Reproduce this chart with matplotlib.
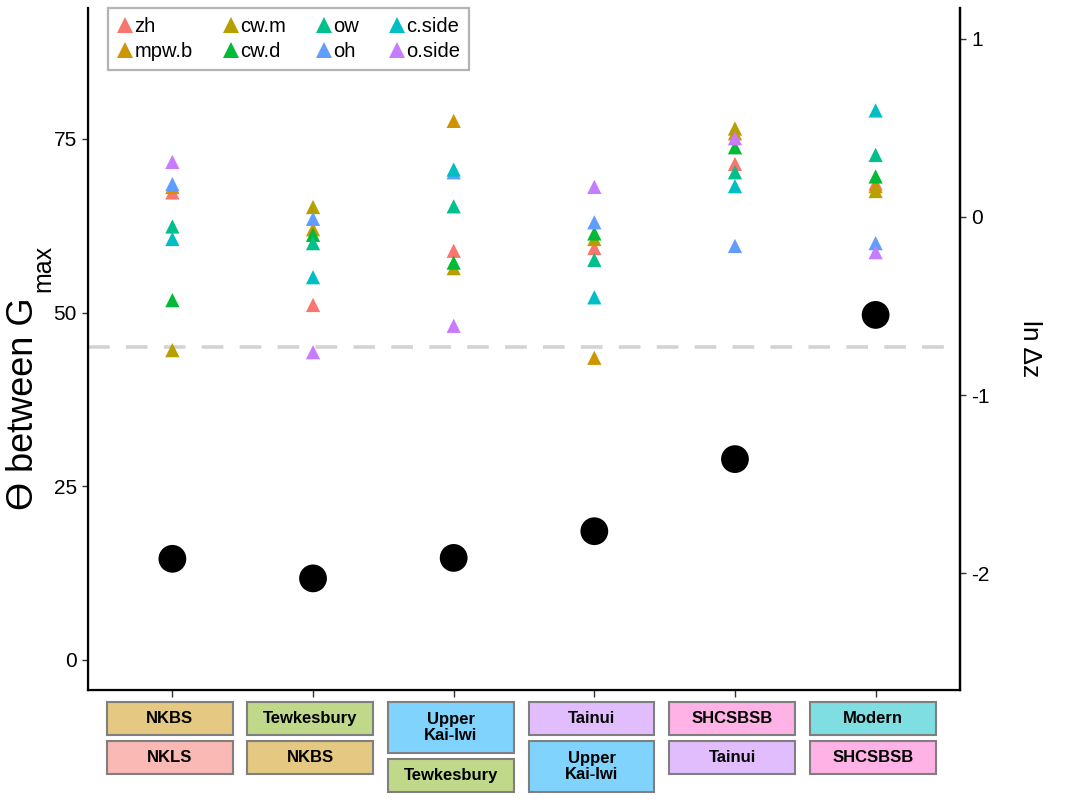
import matplotlib
matplotlib.use('Agg')
import matplotlib.pyplot as plt
from matplotlib.patches import Rectangle
from matplotlib.lines import Line2D
import matplotlib.transforms as mtransforms

plt.rcParams['font.family'] = ['Liberation Sans', 'DejaVu Sans']
plt.rcParams['axes.unicode_minus'] = False

# ---- data ----
groups = [1, 2, 3, 4, 5, 6]
traits = ['zh', 'mpw.b', 'cw.m', 'cw.d', 'ow', 'oh', 'c.side', 'o.side']
zh     = [67.3, 51.1, 58.9, 59.3, 71.4, 68.6]
mpw_b  = [68.1, 62.0, 77.6, 43.5, 75.8, 68.2]
cw_m   = [44.6, 65.2, 56.4, 60.6, 76.5, 67.5]
cw_d   = [51.8, 61.2, 57.2, 61.4, 73.8, 69.6]
ow     = [62.4, 60.0, 65.3, 57.6, 70.2, 72.7]
oh     = [68.5, 63.5, 70.2, 63.0, 59.6, 60.0]
c_side = [60.6, 55.1, 70.6, 52.2, 68.2, 79.1]
o_side = [71.7, 44.3, 48.1, 68.1, 75.1, 58.7]
trait_values = [zh, mpw_b, cw_m, cw_d, ow, oh, c_side, o_side]
trait_colors = ['#F8766D', '#CD9600', '#B79F00', '#00BA38', '#00C08B', '#619CFF', '#00BFC4', '#C77CFF']

ln_dz = [-1.92, -2.03, -1.915, -1.765, -1.36, -0.55]
ref_angle = 45

top_labels = ['NKBS', 'Tewkesbury', 'Upper\nKai-Iwi', 'Tainui', 'SHCSBSB', 'Modern']
bottom_labels = ['NKLS', 'NKBS', 'Tewkesbury', 'Upper\nKai-Iwi', 'Tainui', 'SHCSBSB']
period_colors = {'NKBS': '#E5C882', 'NKLS': '#FAB9B4', 'Tewkesbury': '#C0D88A',
                 'Upper\nKai-Iwi': '#80D3FD', 'Tainui': '#E1BDFD',
                 'SHCSBSB': '#FEB2E5', 'Modern': '#7EDEE1'}

# ---- figure ----
W, H = 1088, 811
fig = plt.figure(figsize=(W / 100, H / 100), dpi=100)
ax_l, ax_r, ax_t, ax_b = 88, 960, 8, 690
ax = fig.add_axes([ax_l / W, 1 - ax_b / H, (ax_r - ax_l) / W, (ax_b - ax_t) / H])
ax.set_xlim(0.4, 6.6)
ax.set_ylim(-4.32, 93.85)

ax.axhline(ref_angle, color='#D3D3D3', lw=2.6, dashes=(6, 4.5), zorder=1)

for vals, col in zip(trait_values, trait_colors):
    ax.scatter(groups, vals, marker='^', s=105, color=col, edgecolors='none', zorder=3)

ax.set_yticks([0, 25, 50, 75])
ax.set_xticks(groups)
ax.set_xticklabels([])
ax.tick_params(axis='y', labelsize=15, length=4, width=1, colors='#333333', labelcolor='black', pad=4)
ax.tick_params(axis='x', length=5, width=1, colors='#333333')
ax.spines['top'].set_visible(False)
for s in ['left', 'bottom', 'right']:
    ax.spines[s].set_linewidth(1.6)
    ax.spines[s].set_color('black')

ax2 = ax.twinx()
ax2.set_ylim(-2.657, 1.174)
ax2.scatter(groups, ln_dz, s=400, color='black', edgecolors='none', zorder=4)
ax2.set_yticks([-2, -1, 0, 1])
ax2.tick_params(axis='y', labelsize=15, length=4, width=1, colors='#333333', labelcolor='black', pad=4)
ax2.spines['top'].set_visible(False)
ax2.spines['right'].set_linewidth(1.6)
ax2.set_ylabel('ln Δz', fontsize=19, rotation=270, labelpad=38)

handles = [Line2D([], [], marker='^', ls='none', color=c, markersize=11.5, markeredgewidth=0)
           for c in trait_colors]
leg = ax.legend(handles, traits, ncol=4, loc='upper left', bbox_to_anchor=(0.023, 1.0),
                borderaxespad=0, frameon=True, fancybox=False, fontsize=14.5,
                handlelength=0.8, handletextpad=0.05, columnspacing=1.5,
                labelspacing=0.3, borderpad=0.45)
leg.get_frame().set_edgecolor('#A0A0A0')
leg.get_frame().set_linewidth(1.6)

# ---- left axis title: "ϴ between G" with subscript "max" ----
t_main = fig.text(33 / W, 1 - 510 / H, 'ϴ between G', fontsize=26, rotation=90,
                  rotation_mode='anchor', ha='left', va='baseline')
fig.canvas.draw()
bb = t_main.get_window_extent(fig.canvas.get_renderer())
fig.text(50 / W, (bb.y1 + 5) / H, 'max', fontsize=18, rotation=90,
         rotation_mode='anchor', ha='left', va='baseline')

# ---- period boxes below axis ----
trans = mtransforms.blended_transform_factory(ax.transData, fig.transFigure)
box_w = 0.895
gap = 6
y0 = 702
for g, lt, lb in zip(groups, top_labels, bottom_labels):
    y = y0
    for lab in (lt, lb):
        h = 51 if '\n' in lab else 33
        rect = Rectangle((g - 0.02 - box_w / 2, 1 - (y + h) / H), box_w, h / H, transform=trans,
                         facecolor=period_colors[lab], edgecolor='#7F7F7F', lw=1.5, clip_on=False)
        fig.add_artist(rect)
        fig.text(g - 0.02, 1 - (y + h / 2) / H, lab, transform=trans,
                 fontsize=12, fontweight='bold', ha='center', va='center',
                 linespacing=1.15)
        y += h + gap

fig.savefig('out.png', dpi=100)
